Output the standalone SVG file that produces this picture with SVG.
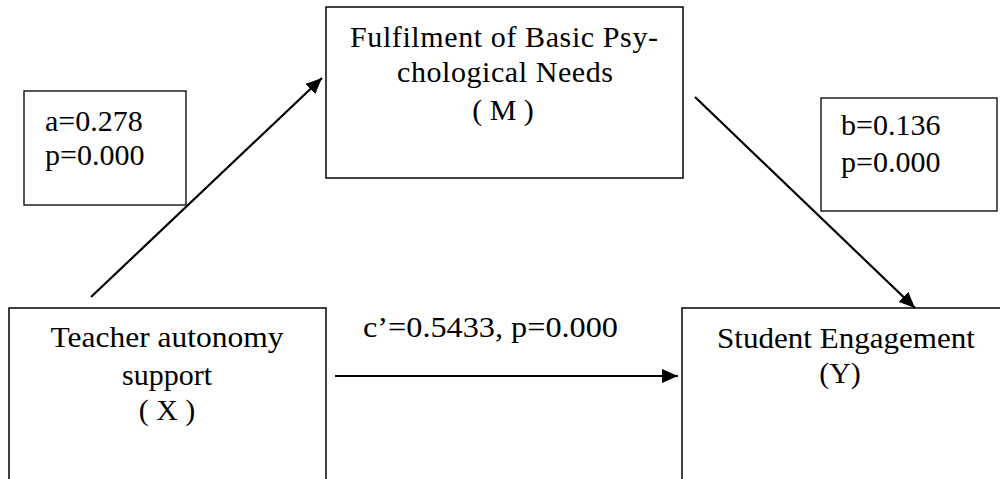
<svg xmlns="http://www.w3.org/2000/svg" width="1000" height="479" viewBox="0 0 1000 479">
<style>
.box{fill:#fff;stroke:#000;stroke-width:1.5}
.lbl{fill:#fff;stroke:#000;stroke-width:1.3}
.t{font-family:"Liberation Serif","Times New Roman",serif;font-size:30px;fill:#000}
.c{text-anchor:middle}
.con{stroke:#000;stroke-width:2.2;fill:none;marker-end:url(#ah)}
</style>
<defs>
<marker id="ah" markerUnits="userSpaceOnUse" viewBox="0 0 16 14" refX="16" refY="7" markerWidth="16" markerHeight="14" orient="auto">
<path d="M0,0 L16,7 L0,14 Z" fill="#000"/>
</marker>
</defs>
<rect width="1000" height="479" fill="#fff"/>
<g id="label-a">
<rect class="lbl" x="24" y="91" width="162" height="114"/>
<text class="t" x="45" y="131">a=0.278</text>
<text class="t" x="45" y="165">p=0.000</text>
</g>
<g id="label-b">
<rect class="lbl" x="821" y="98" width="176" height="113"/>
<text class="t" x="841" y="135">b=0.136</text>
<text class="t" x="841" y="172">p=0.000</text>
</g>
<g id="node-M">
<rect class="box" x="326" y="7" width="357" height="171"/>
<text class="t c" x="504" y="47" textLength="308" lengthAdjust="spacing">Fulfilment of Basic Psy-</text>
<text class="t c" x="505" y="82" textLength="216" lengthAdjust="spacing">chological Needs</text>
<text class="t c" x="503" y="120">( M )</text>
</g>
<g id="node-X">
<rect class="box" x="9" y="308" width="317" height="180"/>
<text class="t c" x="167" y="347" textLength="233" lengthAdjust="spacingAndGlyphs">Teacher autonomy</text>
<text class="t c" x="167" y="385">support</text>
<text class="t c" x="167" y="420">( X )</text>
</g>
<g id="node-Y">
<rect class="box" x="682" y="308" width="330" height="180"/>
<text class="t c" x="846" y="348" textLength="258" lengthAdjust="spacingAndGlyphs">Student Engagement</text>
<text class="t c" x="840" y="383">(Y)</text>
</g>
<g id="connectors">
<line class="con" x1="91" y1="297" x2="322" y2="78"/>
<line class="con" x1="695" y1="97" x2="915" y2="308"/>
<line class="con" x1="335" y1="376" x2="678" y2="376"/>
<text class="t" x="363" y="337" textLength="255" lengthAdjust="spacingAndGlyphs">c’=0.5433, p=0.000</text>
</g>
</svg>
